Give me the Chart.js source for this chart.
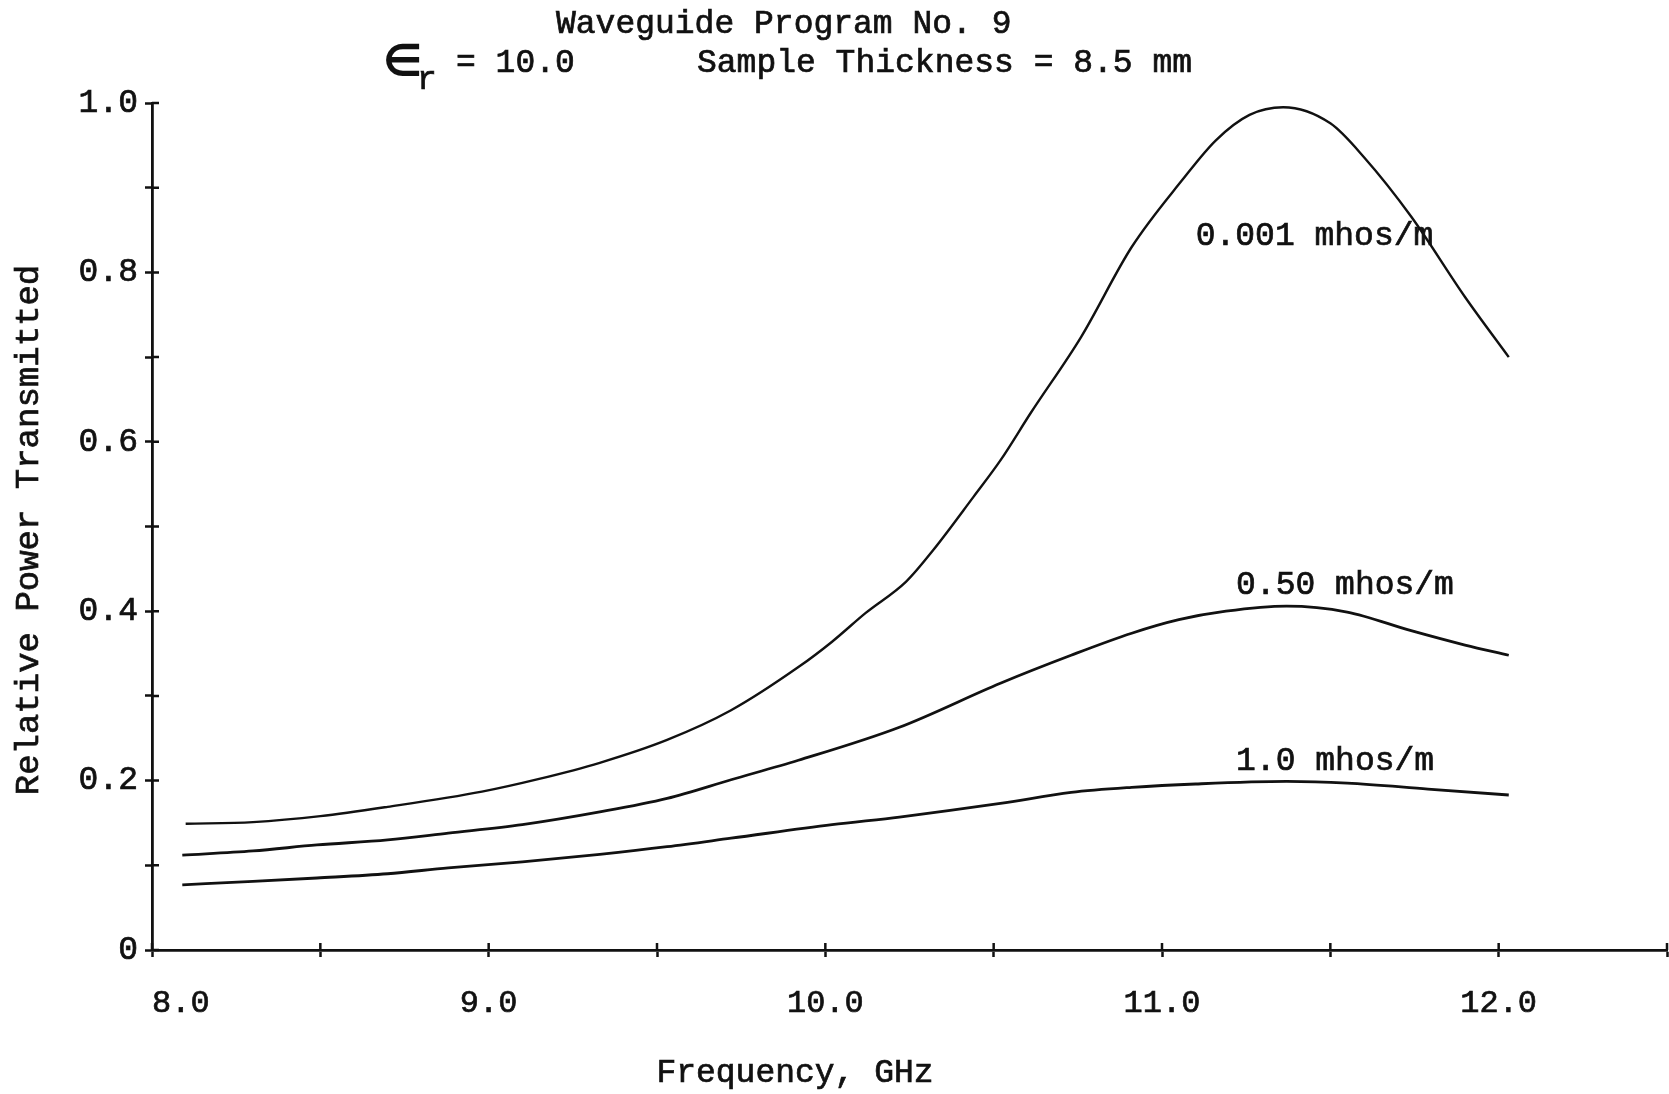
<!DOCTYPE html>
<html>
<head>
<meta charset="utf-8">
<script src="https://cdn.jsdelivr.net/npm/chart.js@4.4.1/dist/chart.umd.min.js"></script>
<style>
  html, body { margin: 0; padding: 0; background: #fff; }
  canvas { display: block; }
</style>
</head>
<body>
<canvas id="plot" width="1669" height="1094"></canvas>
<script>
// conductivity of the sample for each curve
const seriesNames = ["0.001 mhos/m", "0.50 mhos/m", "1.0 mhos/m"];

// frequency (GHz) and relative power transmitted, one pair per curve
const freqLow = [8.10, 8.30, 8.50, 8.70, 8.98, 9.15, 9.33, 9.53, 9.72, 9.92, 10.02, 10.12, 10.24, 10.32, 10.44, 10.52, 10.61, 10.76, 10.91, 11.06, 11.16, 11.26, 11.36, 11.50, 11.60, 11.74, 11.90, 12.03];
const powerLow = [0.149, 0.151, 0.158, 0.169, 0.187, 0.202, 0.221, 0.248, 0.283, 0.334, 0.364, 0.398, 0.435, 0.472, 0.535, 0.578, 0.634, 0.724, 0.830, 0.909, 0.956, 0.986, 0.995, 0.976, 0.936, 0.866, 0.771, 0.700];

const freqMid = [8.09, 8.30, 8.49, 8.70, 8.88, 9.10, 9.33, 9.53, 9.72, 9.92, 10.22, 10.52, 10.73, 10.91, 11.05, 11.19, 11.37, 11.55, 11.74, 11.90, 12.03];
const powerMid = [0.112, 0.117, 0.124, 0.130, 0.138, 0.148, 0.163, 0.179, 0.201, 0.224, 0.263, 0.315, 0.348, 0.374, 0.390, 0.400, 0.406, 0.399, 0.377, 0.360, 0.348];

const freqHigh = [8.09, 8.30, 8.49, 8.70, 8.88, 9.10, 9.33, 9.53, 9.72, 10.02, 10.22, 10.52, 10.73, 10.91, 11.10, 11.37, 11.55, 11.79, 12.03];
const powerHigh = [0.077, 0.081, 0.085, 0.090, 0.097, 0.104, 0.113, 0.122, 0.132, 0.148, 0.157, 0.173, 0.186, 0.192, 0.196, 0.199, 0.197, 0.190, 0.183];

// labelled ticks
const xTickValues = [8, 9, 10, 11, 12];
const xTickLabels = ["   8.0", "9.0", "10.0", "11.0", "12.0"];
const yTickValues = [0, 0.2, 0.4, 0.6, 0.8, 1.0];
const yTickLabels = ["0", "0.2", "0.4", "0.6", "0.8", "1.0"];

// where each curve's name sits (GHz, power at text baseline)
const labelAnchors = [[11.10, 0.832], [11.22, 0.420], [11.22, 0.212]];

const INK = "#111";
const TYPE = (size) => size + 'px "Liberation Mono", "Courier New", monospace';

function pairs(xs, ys) {
    return xs.map((f, i) => ({ x: f, y: ys[i] }));
}

function tickText(values, labels) {
    return (v) => {
        const i = values.findIndex(t => Math.abs(t - v) < 1e-6);
        return i >= 0 ? labels[i] : "";
    };
}

// filled and lightly stroked, so the type reads a little heavier
function typeText(ctx, text, x, y) {
    ctx.fillText(text, x, y);
    ctx.strokeText(text, x, y);
}

// typed heading, axis captions, curve names and the inner half of the tick marks
const typedText = {
    id: "typedText",
    afterDraw(chart) {
        const { ctx, chartArea, scales: { x, y } } = chart;
        ctx.save();
        ctx.strokeStyle = INK;
        ctx.fillStyle = INK;
        ctx.lineWidth = 2.5;
        ctx.beginPath();
        x.ticks.forEach(t => {
            const px = x.getPixelForValue(t.value);
            ctx.moveTo(px, chartArea.bottom);
            ctx.lineTo(px, chartArea.bottom - 7);
        });
        y.ticks.forEach(t => {
            const py = y.getPixelForValue(t.value);
            ctx.moveTo(chartArea.left, py);
            ctx.lineTo(chartArea.left + 7, py);
        });
        ctx.stroke();

        ctx.lineWidth = 0.7;
        ctx.textAlign = "left";
        ctx.textBaseline = "alphabetic";
        ctx.font = TYPE(33);
        typeText(ctx, "Waveguide Program No. 9", 556, 33);
        ctx.font = 'bold 44px "DejaVu Sans"';
        ctx.fillText("\u2208", 383, 76);
        ctx.font = TYPE(33);
        typeText(ctx, "r", 417, 89);
        typeText(ctx, "= 10.0", 456, 72);
        typeText(ctx, "Sample Thickness = 8.5 mm", 697, 72);

        ctx.textAlign = "center";
        typeText(ctx, "Frequency, GHz", 795, 1082);

        ctx.save();
        ctx.translate(29, 530);
        ctx.rotate(-Math.PI / 2);
        ctx.textBaseline = "middle";
        ctx.font = TYPE(34);
        typeText(ctx, "Relative Power Transmitted", 0, 0);
        ctx.restore();

        ctx.textAlign = "left";
        seriesNames.forEach((name, i) => {
            const [f, p] = labelAnchors[i];
            typeText(ctx, name, x.getPixelForValue(f), y.getPixelForValue(p));
        });
        ctx.restore();
    }
};

const curve = (label, data, width) => ({
    label,
    data,
    borderColor: INK,
    borderWidth: width,
    pointRadius: 0,
    fill: false,
    cubicInterpolationMode: "monotone",
});

const tickFont = (size) => ({ family: '"Liberation Mono"', size });

new Chart(document.getElementById("plot"), {
    type: "line",
    data: {
        datasets: [
            curve(seriesNames[0], pairs(freqLow, powerLow), 2.4),
            curve(seriesNames[1], pairs(freqMid, powerMid), 2.8),
            curve(seriesNames[2], pairs(freqHigh, powerHigh), 2.8),
        ],
    },
    options: {
        responsive: false,
        animation: false,
        devicePixelRatio: 1,
        layout: { padding: { top: 103, right: 2, left: 0, bottom: 0 } },
        plugins: {
            legend: { display: false },
            tooltip: { enabled: false },
        },
        scales: {
            x: {
                type: "linear",
                min: 8,
                max: 12.5,
                afterFit: (scale) => {
                    scale.height = 144;
                    scale.paddingLeft = 0;
                    scale.paddingRight = 0;
                },
                border: { display: true, color: INK, width: 2.8 },
                grid: { drawOnChartArea: false, drawTicks: true, tickLength: 7, color: INK, tickWidth: 2.5 },
                ticks: {
                    stepSize: 0.5,
                    autoSkip: false,
                    maxRotation: 0,
                    padding: 27,
                    color: INK,
                    textStrokeColor: INK,
                    textStrokeWidth: 0.7,
                    font: tickFont(32),
                    callback: tickText(xTickValues, xTickLabels),
                },
            },
            y: {
                min: 0,
                max: 1,
                afterFit: (scale) => {
                    scale.width = 152;
                    scale.paddingTop = 0;
                    scale.paddingBottom = 0;
                },
                border: { display: true, color: INK, width: 2.8 },
                grid: { drawOnChartArea: false, drawTicks: true, tickLength: 7, color: INK, tickWidth: 2.5 },
                ticks: {
                    stepSize: 0.1,
                    autoSkip: false,
                    padding: 7,
                    color: INK,
                    textStrokeColor: INK,
                    textStrokeWidth: 0.7,
                    font: tickFont(33),
                    callback: tickText(yTickValues, yTickLabels),
                },
            },
        },
    },
    plugins: [typedText],
});
</script>
</body>
</html>
